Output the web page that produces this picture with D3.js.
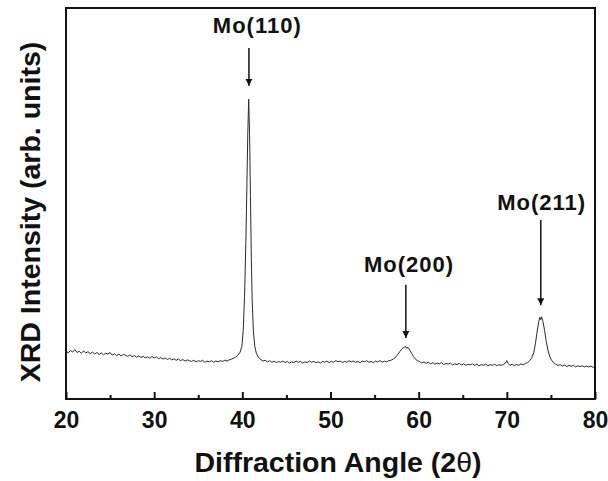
<!DOCTYPE html>
<html>
<head>
<meta charset="utf-8">
<script src="https://cdn.jsdelivr.net/npm/d3@7"></script>
<style>
  body { margin: 0; background: #fff; }
  svg text { font-family: "Liberation Sans", Arial, sans-serif; font-weight: bold; fill: #111; }
</style>
</head>
<body>
<div id="chart"></div>
<script>
// XRD scan: [2theta, intensity (arb.)]
const scan = [
  [20.00,12.3],[20.25,11.8],[20.50,12.4],[20.75,12.0],[21.00,12.6],[21.25,11.9],[21.50,12.2],[21.75,11.7],
  [22.00,12.3],[22.25,11.8],[22.50,12.1],[22.75,11.6],[23.00,12.0],[23.25,11.5],[23.50,11.9],[23.75,11.4],
  [24.00,11.8],[24.25,11.3],[24.50,11.7],[24.75,11.5],[25.00,11.9],[25.25,11.2],[25.50,11.6],[25.75,11.1],
  [26.00,11.5],[26.25,11.0],[26.50,11.4],[26.75,11.2],[27.00,10.9],[27.25,11.3],[27.50,10.8],[27.75,11.1],
  [28.00,10.7],[28.25,11.0],[28.50,10.6],[28.75,10.9],[29.00,10.5],[29.25,10.8],[29.50,10.4],[29.75,10.9],
  [30.00,10.5],[30.25,10.8],[30.50,10.3],[30.75,10.6],[31.00,10.2],[31.25,10.5],[31.50,10.1],[31.75,10.4],
  [32.00,10.0],[32.25,10.3],[32.50,9.9],[32.75,10.2],[33.00,9.8],[33.25,10.1],[33.50,9.7],[33.75,10.0],
  [34.00,9.8],[34.25,9.6],[34.50,9.9],[34.75,9.5],[35.00,9.8],[35.25,9.6],[35.50,9.9],[35.75,9.4],
  [36.00,9.7],[36.25,9.5],[36.50,9.8],[36.75,9.4],[37.00,9.7],[37.25,9.5],[37.50,9.8],[37.75,9.6],
  [38.00,9.9],[38.25,9.7],[38.50,10.0],[38.75,10.2],[39.00,10.4],[39.25,10.7],[39.50,11.2],[39.75,12.0],
  [39.95,13.5],[40.10,17.5],[40.25,26],[40.40,40],[40.52,55],[40.62,68],[40.72,76.7],[40.82,68],
  [40.92,52],[41.02,36],[41.12,25],[41.25,17.5],[41.40,13.6],[41.60,11.6],[41.85,10.6],[42.10,10.1],
  [42.35,9.7],[42.60,9.9],[42.85,9.5],[43.10,9.8],[43.35,9.4],[43.60,9.7],[43.85,9.3],[44.10,9.6],
  [44.35,9.4],[44.60,9.7],[44.85,9.3],[45.10,9.6],[45.35,9.2],[45.60,9.5],[45.85,9.3],[46.10,9.7],
  [46.35,9.4],[46.60,9.6],[46.85,9.2],[47.10,9.5],[47.35,9.3],[47.60,9.7],[47.85,9.4],[48.10,9.6],
  [48.35,9.3],[48.60,9.5],[48.85,9.2],[49.10,9.6],[49.35,9.4],[49.60,9.7],[49.85,9.3],[50.10,9.6],
  [50.35,9.4],[50.60,9.8],[50.85,9.5],[51.10,9.7],[51.35,9.3],[51.60,9.6],[51.85,9.4],[52.10,9.8],
  [52.35,9.5],[52.60,9.7],[52.85,9.4],[53.10,9.6],[53.35,9.3],[53.60,9.7],[53.85,9.5],[54.10,9.8],
  [54.35,9.4],[54.60,9.6],[54.85,9.3],[55.10,9.7],[55.35,9.5],[55.60,9.8],[55.85,9.4],[56.10,9.7],
  [56.35,9.5],[56.60,9.8],[56.85,9.9],[57.10,10.2],[57.35,10.6],[57.60,11.3],[57.85,12.1],[58.10,12.8],
  [58.30,13.2],[58.50,13.4],[58.65,13.0],[58.80,13.2],[59.00,12.5],[59.20,11.7],[59.40,10.9],[59.60,10.3],
  [59.85,9.8],[60.10,9.6],[60.35,9.2],[60.60,9.5],[60.85,9.1],[61.10,9.4],[61.35,9.0],[61.60,9.3],
  [61.85,8.9],[62.10,9.2],[62.35,9.0],[62.60,9.3],[62.85,8.8],[63.10,9.1],[63.35,8.9],[63.60,9.2],
  [63.85,8.7],[64.10,9.0],[64.35,8.8],[64.60,9.1],[64.85,8.7],[65.10,9.0],[65.35,8.6],[65.60,8.9],
  [65.85,8.7],[66.10,9.0],[66.35,8.6],[66.60,8.9],[66.85,8.5],[67.10,8.8],[67.35,8.6],[67.60,8.9],
  [67.85,8.5],[68.10,8.8],[68.35,8.6],[68.60,8.9],[68.85,8.5],[69.10,8.8],[69.35,8.6],[69.60,8.8],
  [69.85,9.2],[70.00,9.8],[70.15,9.1],[70.35,8.6],[70.60,8.9],[70.85,8.5],[71.10,8.8],[71.35,8.6],
  [71.60,9.0],[71.85,8.7],[72.10,9.1],[72.35,9.3],[72.60,9.8],[72.85,10.6],[73.05,11.8],[73.25,14.3],
  [73.45,17.4],[73.62,19.8],[73.75,20.9],[73.85,20.3],[73.95,21.0],[74.10,19.8],[74.28,17.6],[74.45,15.0],
  [74.65,12.6],[74.85,11.0],[75.05,10.0],[75.30,9.3],[75.55,8.9],[75.80,8.6],[76.05,8.8],[76.30,8.4],
  [76.55,8.7],[76.80,8.3],[77.05,8.6],[77.30,8.4],[77.55,8.6],[77.80,8.2],[78.05,8.5],[78.30,8.3],
  [78.55,8.5],[78.80,8.2],[79.05,8.4],[79.30,8.2],[79.55,8.4],[79.80,8.1],[80.00,8.3]
];

// peak labels: name, peak angle, arrow top / tip and label height (arb. units), label angle
const peakNames  = ["Mo(110)", "Mo(200)", "Mo(211)"];
const peakAngles = [40.75, 58.55, 73.85];
const arrowTops  = [89.8, 29.2, 45.8];
const arrowTips  = [80.1, 15.6, 24.0];
const labelYs    = [93.6, 32.5, 48.3];
const labelXs    = [41.7, 58.9, 73.95];

const xTicks = [20, 30, 40, 50, 60, 70, 80];
const xMinor = [25, 35, 45, 55, 65, 75];

const width = 608, height = 481;
const margin = { top: 8, right: 13, bottom: 82, left: 66 };

const svg = d3.select("#chart").append("svg")
  .attr("width", width)
  .attr("height", height);

svg.append("defs").append("marker")
  .attr("id", "head")
  .attr("viewBox", "0 0 10 10")
  .attr("refX", 10).attr("refY", 5)
  .attr("markerWidth", 7).attr("markerHeight", 9)
  .attr("markerUnits", "userSpaceOnUse")
  .attr("orient", "auto")
  .append("path")
  .attr("d", "M0,0 L10,5 L0,10 z")
  .attr("fill", "#111");

const x = d3.scaleLinear().domain([20, 80]).range([margin.left, width - margin.right]);
const y = d3.scaleLinear().domain([0, 100]).range([height - margin.bottom, margin.top]);

// pattern
svg.append("path")
  .datum(scan)
  .attr("fill", "none")
  .attr("stroke", "#2a2a2a")
  .attr("stroke-width", 1)
  .attr("stroke-linejoin", "round")
  .attr("d", d3.line().x(d => x(d[0])).y(d => y(d[1])));

// frame
svg.append("rect")
  .attr("x", x(20)).attr("y", y(100))
  .attr("width", x(80) - x(20)).attr("height", y(0) - y(100))
  .attr("fill", "none").attr("stroke", "#111").attr("stroke-width", 2);

// bottom axis, ticks pointing inward
const xAxis = svg.append("g")
  .attr("transform", `translate(0,${y(0)})`)
  .call(d3.axisBottom(x).tickValues(xTicks).tickSize(-7).tickPadding(12).tickFormat(d3.format("d")));
xAxis.select(".domain").remove();
xAxis.selectAll(".tick line").attr("stroke", "#111").attr("stroke-width", 2);
xAxis.selectAll(".tick text")
  .attr("font-size", 23)
  .attr("dy", "0.72em")
  .attr("fill", "#111");

svg.append("g")
  .attr("transform", `translate(0,${y(0)})`)
  .call(d3.axisBottom(x).tickValues(xMinor).tickSize(-4).tickFormat(""))
  .call(g => g.select(".domain").remove())
  .selectAll(".tick line").attr("stroke", "#111").attr("stroke-width", 2);

// axis titles
const xTitle = svg.append("text")
  .attr("x", 338).attr("y", 472)
  .attr("text-anchor", "middle")
  .attr("font-size", 28.5);
xTitle.append("tspan").text("Diffraction Angle (2");
xTitle.append("tspan").attr("font-weight", "normal").text("θ");
xTitle.append("tspan").text(")");

svg.append("text")
  .attr("transform", "translate(40,212) rotate(-90)")
  .attr("text-anchor", "middle")
  .attr("font-size", 28.5)
  .text("XRD Intensity (arb. units)");

// peak annotations
const ann = svg.append("g");
peakNames.forEach((name, i) => {
  ann.append("line")
    .attr("x1", x(peakAngles[i])).attr("x2", x(peakAngles[i]))
    .attr("y1", y(arrowTops[i])).attr("y2", y(arrowTips[i]))
    .attr("stroke", "#111").attr("stroke-width", 1.5)
    .attr("marker-end", "url(#head)");
  ann.append("text")
    .attr("x", x(labelXs[i])).attr("y", y(labelYs[i]))
    .attr("text-anchor", "middle")
    .attr("font-size", 22)
    .attr("letter-spacing", 1)
    .text(name);
});
</script>
</body>
</html>
